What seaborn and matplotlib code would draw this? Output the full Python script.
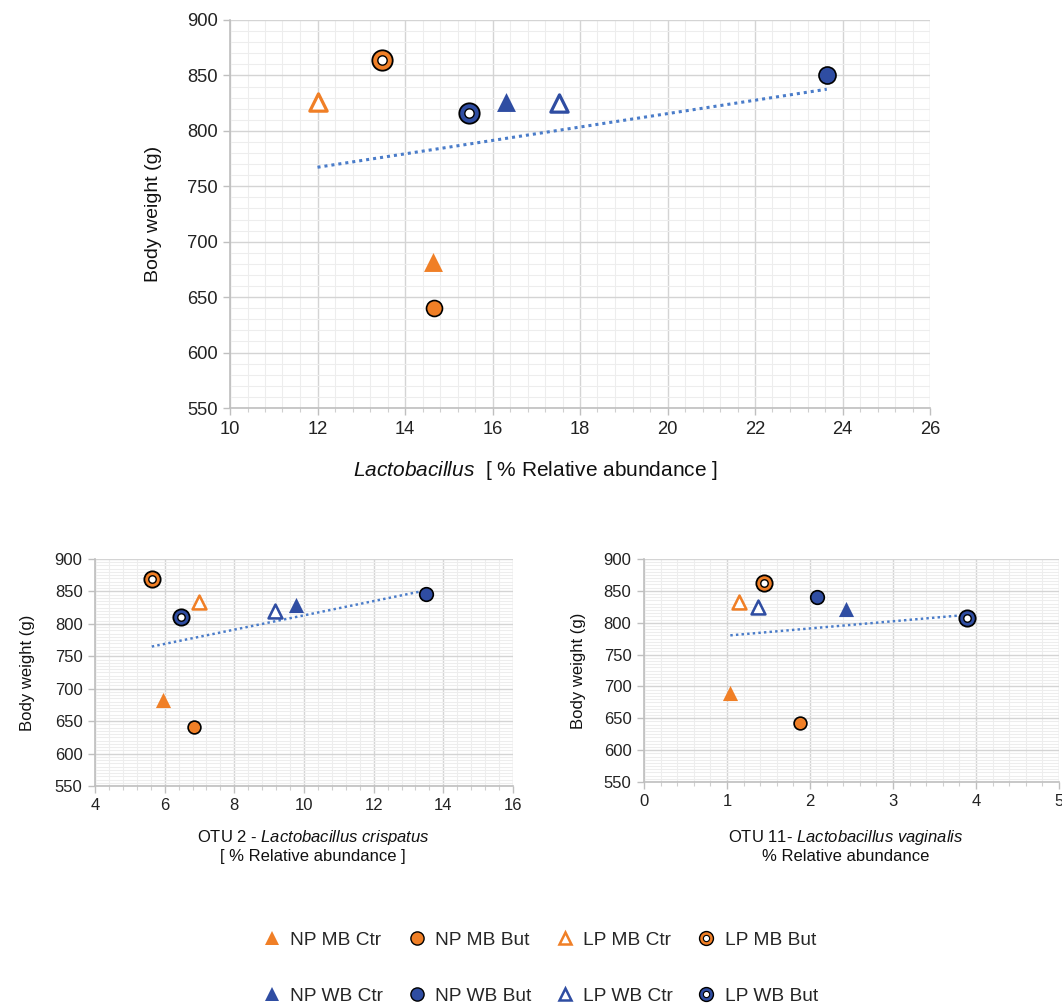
import numpy as np
import matplotlib
matplotlib.use("Agg")
import matplotlib.pyplot as plt
from matplotlib.lines import Line2D
from matplotlib.ticker import MultipleLocator
import seaborn as sns

# groups, same order in every panel
groups = ['NP MB Ctr', 'NP MB But', 'LP MB Ctr', 'LP MB But',
          'NP WB Ctr', 'NP WB But', 'LP WB Ctr', 'LP WB But']

# top panel: Lactobacillus total
x_top = [14.63, 14.66, 12.0, 13.47, 16.3, 23.64, 17.53, 15.47]
y_top = [682, 640, 826, 864, 826, 850, 825, 816]

# bottom left: OTU 2 - L. crispatus
x_bl = [5.94, 6.84, 6.99, 5.63, 9.77, 13.49, 9.16, 6.47]
y_bl = [683, 641, 833, 869, 829, 846, 820, 811]

# bottom right: OTU 11 - L. vaginalis
x_br = [1.04, 1.88, 1.14, 1.45, 2.43, 2.08, 1.37, 3.89]
y_br = [689, 642, 833, 862, 822, 840, 824, 808]

ORANGE = '#F07F26'
BLUE = '#2F4DA2'
TREND = '#4A7CC9'

sns.set_theme(style='white')
plt.rcParams['font.family'] = ['Liberation Sans', 'DejaVu Sans']
plt.rcParams['mathtext.fontset'] = 'custom'
plt.rcParams['mathtext.rm'] = 'Liberation Sans'
plt.rcParams['mathtext.it'] = 'Liberation Sans:italic'


def style_of(g):
    color = ORANGE if 'MB' in g else BLUE
    kind = ('LP' if g.startswith('LP') else 'NP') + (' But' if 'But' in g else ' Ctr')
    return color, kind


def draw_panel(ax, xs, ys, scale, xlim, xmaj, xmin_, ymin_, fs):
    # trendline under the markers
    sns.regplot(x=np.array(xs), y=np.array(ys), ax=ax, scatter=False, ci=None,
                truncate=True, line_kws=dict(ls=(0, (1, 1.3)), color=TREND, lw=2.2 * scale))
    for g, x, y in zip(groups, xs, ys):
        color, kind = style_of(g)
        if kind == 'NP Ctr':
            sns.scatterplot(x=[x], y=[y], ax=ax, marker='^', s=185 * scale**2,
                            color=color, linewidth=0, zorder=5)
        elif kind == 'NP But':
            sz = 150 if 'WB' in g else 132
            sns.scatterplot(x=[x], y=[y], ax=ax, marker='o', s=sz * scale**2,
                            color=color, edgecolor='black', linewidth=1.2, zorder=5)
        elif kind == 'LP Ctr':
            sns.scatterplot(x=[x], y=[y], ax=ax, marker='^', s=155 * scale**2,
                            facecolor='white', edgecolor=color, linewidth=2.3 * scale, zorder=5)
        else:
            sns.scatterplot(x=[x], y=[y], ax=ax, marker='o', s=215 * scale**2,
                            color=color, edgecolor='black', linewidth=1.3, zorder=5)
            sns.scatterplot(x=[x], y=[y], ax=ax, marker='o', s=45 * scale**2,
                            color='white', edgecolor='black', linewidth=1.0, zorder=6)
    ax.set_xlim(*xlim)
    ax.set_ylim(550, 900)
    ax.xaxis.set_major_locator(MultipleLocator(xmaj))
    ax.xaxis.set_minor_locator(MultipleLocator(xmin_))
    ax.yaxis.set_major_locator(MultipleLocator(50))
    ax.yaxis.set_minor_locator(MultipleLocator(ymin_))
    ax.grid(which='major', color='#d4d4d4', lw=1.0)
    ax.grid(which='minor', color='#ededed', lw=0.8)
    ax.set_axisbelow(True)
    for side in ['top', 'right']:
        ax.spines[side].set_visible(False)
    for side in ['left', 'bottom']:
        ax.spines[side].set_color('#bfbfbf')
        ax.spines[side].set_linewidth(1.2)
    ax.tick_params(which='major', direction='out', length=5, width=1, color='#bfbfbf',
                   labelsize=fs, labelcolor='#222222', bottom=True, left=True, pad=4)
    ax.tick_params(axis='x', which='minor', direction='out', length=3, width=0.8,
                   color='#cfcfcf', bottom=True)
    ax.set_xlabel('')
    ax.set_ylabel('')


fig = plt.figure(figsize=(10.62, 10.06), dpi=100)
W, H = 1062, 1006

ax_top = fig.add_axes([230 / W, 1 - 408 / H, 700 / W, 388 / H])
ax_bl = fig.add_axes([95 / W, 1 - 786 / H, 418 / W, 227 / H])
ax_br = fig.add_axes([644 / W, 1 - 782 / H, 415 / W, 223 / H])

draw_panel(ax_top, x_top, y_top, 1.0, (10, 26), 2, 0.4, 10, 13.2)
draw_panel(ax_bl, x_bl, y_bl, 0.8, (4, 16), 2, 0.4, 5, 12)
draw_panel(ax_br, x_br, y_br, 0.8, (0, 5), 1, 0.2, 5, 12)

ax_top.set_ylabel('Body weight (g)', fontsize=14, color='#111111', labelpad=18)
ax_bl.set_ylabel('Body weight (g)', fontsize=12, color='#111111', labelpad=14)
ax_br.set_ylabel('Body weight (g)', fontsize=12, color='#111111', labelpad=13)

fig.text(535 / W, 1 - 470 / H, r'$\it{Lactobacillus}$  [ % Relative abundance ]',
         ha='center', va='center', fontsize=15, color='#111111')
fig.text(313 / W, 1 - 846 / H, 'OTU 2 - $\\it{Lactobacillus\\ crispatus}$\n[ % Relative abundance ]',
         ha='center', va='center', fontsize=12, color='#111111', linespacing=1.15)
fig.text(846 / W, 1 - 846 / H, 'OTU 11- $\\it{Lactobacillus\\ vaginalis}$\n% Relative abundance',
         ha='center', va='center', fontsize=12, color='#111111', linespacing=1.15)

# legend, filled column-wise so rows read NP MB..., NP WB...
def legend_handle(g):
    color, kind = style_of(g)
    if kind == 'NP Ctr':
        return Line2D([], [], ls='', marker='^', ms=10, mfc=color, mec=color, mew=0)
    if kind == 'NP But':
        return Line2D([], [], ls='', marker='o', ms=9.5, mfc=color, mec='black', mew=1)
    if kind == 'LP Ctr':
        return Line2D([], [], ls='', marker='^', ms=9, mfc='white', mec=color, mew=1.8)
    return (Line2D([], [], ls='', marker='o', ms=10, mfc=color, mec='black', mew=1),
            Line2D([], [], ls='', marker='o', ms=4.5, mfc='white', mec='black', mew=0.8))

order = [0, 4, 1, 5, 2, 6, 3, 7]
handles = [legend_handle(groups[i]) for i in order]
labels = [groups[i] for i in order]
fig.legend(handles, labels, loc='center', bbox_to_anchor=(540 / W, 1 - 968 / H), ncol=4,
           frameon=False, fontsize=13.8, labelspacing=2.0, columnspacing=1.25,
           handlelength=1.0, handletextpad=0.45)

fig.savefig('out.png', dpi=100, facecolor='white')
